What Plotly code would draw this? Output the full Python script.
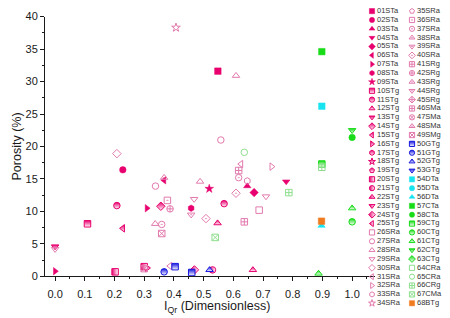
import plotly.graph_objects as go

# ---------------- data ----------------
series_names = [
    "01STa", "02STa", "03STa", "04STa", "05STa", "06STa", "07STa", "08STa", "09STa",
    "10STg", "11STg", "12STg", "13STg", "14STg", "15STg", "16STg", "17STg", "18STg",
    "19STg", "20STg", "21STg", "22STg", "23STg", "24STg", "25STg",
    "26SRa", "27SRa", "28SRa", "29SRa", "30SRa", "31SRa", "32SRa", "33SRa", "34SRa",
    "35SRa", "36SRa", "37SRa", "38SRa", "39SRa", "40SRa",
    "41SRg", "42SRg", "43SRg", "44SRg", "45SRg",
    "46SMa", "47SMa", "48SMa", "49SMg",
    "50GTg", "51GTg", "52GTg", "53GTg",
    "54DTa", "55DTa", "56DTa",
    "57CTa", "58CTa", "59CTg", "60CTg", "61CTg", "62CTg", "63CTg",
    "64CRa", "65CRa", "66CRg", "67CMa", "68BTg",
]

# one entry per plotted point
point_series = [
    "01STa", "02STa", "03STa", "04STa", "05STa", "06STa", "07STa", "07STa", "08STa", "09STa",
    "10STg", "11STg", "11STg", "12STg", "12STg", "13STg", "14STg", "15STg", "16STg", "20STg",
    "20STg", "24STg", "21STg",
    "26SRa", "27SRa", "27SRa", "28SRa", "28SRa", "28SRa", "29SRa", "29SRa", "29SRa", "30SRa",
    "31SRa", "31SRa", "32SRa", "33SRa", "34SRa", "36SRa", "37SRa", "37SRa", "38SRa", "39SRa",
    "40SRa", "40SRa", "41SRg", "41SRg", "42SRg", "49SMg", "49SMg",
    "50GTg", "50GTg", "51GTg", "52GTg",
    "54DTa", "56DTa",
    "57CTa", "58CTa", "59CTg", "60CTg", "61CTg", "61CTg", "62CTg",
    "65CRa", "66CRg", "66CRg", "67CMa", "68BTg",
]
point_x = [
    0.548, 0.228, 0.647, 0.778, 0.670, 0.367, 0.309, 0.000, 0.458, 0.519,
    0.109, 0.208, 0.569, 0.547, 0.666, 0.000, 0.356, 0.228, 0.310, 0.202,
    0.300, 0.469, 0.530,
    0.687, 0.558, 0.338, 0.609, 0.488, 0.337, 0.710, 0.468, 0.000, 0.208,
    0.626, 0.387, 0.729, 0.647, 0.407, 0.378, 0.359, 0.618, 0.367, 0.458,
    0.609, 0.508, 0.618, 0.637, 0.387, 0.359, 0.300,
    0.404, 0.460, 0.367, 0.520,
    0.898, 0.897,
    0.898, 1.000, 0.898, 1.000, 1.000, 0.887, 1.000,
    0.637, 0.787, 0.898, 0.539, 0.897,
]
point_y = [
    31.6, 16.4, 13.9, 14.6, 12.9, 14.8, 10.5, 0.8, 10.5, 13.5,
    8.1, 10.9, 11.2, 8.2, 1.0, 4.6, 10.8, 7.4, 1.3, 0.7,
    1.5, 1.0, 1.0,
    10.2, 21.0, 13.9, 30.9, 14.6, 8.1, 12.3, 11.9, 4.2, 18.9,
    17.3, 1.6, 16.9, 14.7, 38.3, 11.7, 8.0, 15.2, 15.2, 9.5,
    12.8, 8.9, 16.3, 8.4, 10.4, 6.6, 1.2,
    1.5, 0.6, 0.7, 1.0,
    26.2, 7.8,
    34.6, 21.4, 17.3, 8.4, 10.5, 0.45, 22.5,
    19.1, 12.9, 16.8, 6.0, 8.5,
]

x_ticks = [0.0, 0.1, 0.2, 0.3, 0.4, 0.5, 0.6, 0.7, 0.8, 0.9, 1.0]
y_ticks = [0, 5, 10, 15, 20, 25, 30, 35, 40]

# ---------------- styles ----------------
DEEP = "#E8006E"
LIGHT = "#E27AAE"
BLUE = "#1818E0"
CYAN = "#18E4F0"
GREEN = "#18DC18"
LGREEN = "#8EDE8E"
ORANGE = "#F07A1E"

shapes9 = ["square", "circle", "triangle-up", "triangle-down", "diamond",
           "triangle-left", "triangle-right", "hexagon", "star"]
series_style = []  # (symbol, color, fill)
series_style += [(s, DEEP, "filled") for s in shapes9]
series_style += [(s, DEEP, "half-v") for s in shapes9]
series_style += [("pentagon", DEEP, "half-v")]
series_style += [(s, DEEP, "half-h") for s in shapes9[:6]]
series_style += [(s + "-open", LIGHT, "open") for s in shapes9]
series_style += [("pentagon-open", LIGHT, "open")]
series_style += [(s + "-open-dot", LIGHT, "open") for s in shapes9[:5]]
series_style += [("square-cross-open", LIGHT, "open"), ("circle-cross-open", LIGHT, "open"),
                 ("triangle-up-open-dot", LIGHT, "open"), ("triangle-down-open-dot", LIGHT, "open"),
                 ("diamond-cross-open", LIGHT, "open")]
series_style += [("square-cross-open", LIGHT, "open"), ("circle-x-open", LIGHT, "open"),
                 ("triangle-up-open-dot", LIGHT, "open"), ("square-x-open", LIGHT, "open")]
series_style += [(s, BLUE, "half-v") for s in shapes9[:4]]
series_style += [(s, CYAN, "filled") for s in shapes9[:3]]
series_style += [(s, GREEN, "filled") for s in shapes9[:2]]
series_style += [(s, GREEN, "half-v") for s in shapes9[:5]]
series_style += [("square-open", LGREEN, "open"), ("circle-open", LGREEN, "open"),
                 ("square-cross-open", LGREEN, "open"), ("square-x-open", LGREEN, "open")]
series_style += [("square", ORANGE, "filled")]


def marker_for(style, size):
    sym, col, fill = style
    m = dict(symbol=sym, size=size, color=col, line=dict(color=col, width=1))
    if fill == "filled":
        m["line"] = dict(color=col, width=0.5)
    elif fill == "half-v":
        m["gradient"] = dict(type="vertical", color="white")
    elif fill == "half-h":
        m["gradient"] = dict(type="horizontal", color="white")
    return m


fig = go.Figure()

for name, style in zip(series_names, series_style):
    xs = [x for s, x in zip(point_series, point_x) if s == name]
    ys = [y for s, y in zip(point_series, point_y) if s == name]
    if not xs:
        continue
    fig.add_trace(go.Scatter(
        x=xs, y=ys, mode="markers", name=name, showlegend=False,
        marker=marker_for(style, 6.5), cliponaxis=False,
        xaxis="x", yaxis="y"))

# ---------------- manual two-column legend (pixel space axes) ----------------
rows = 34
for i, (name, style) in enumerate(zip(series_names, series_style)):
    col, row = divmod(i, rows)
    lx = 372 + 40 * col
    ly = 5.3 + 9.2 * row
    fig.add_trace(go.Scatter(
        x=[lx], y=[ly], mode="markers", showlegend=False,
        marker=marker_for(style, 5.2), cliponaxis=False,
        xaxis="x2", yaxis="y2", hoverinfo="skip"))

leg_x = [372 + 40 * (i // rows) + 5 for i in range(len(series_names))]
leg_y = [5.3 + 9.2 * (i % rows) for i in range(len(series_names))]
fig.add_trace(go.Scatter(
    x=leg_x, y=leg_y, mode="text", text=series_names, textposition="middle right",
    textfont=dict(family="Liberation Sans, Arial", size=7.5, color="#333333"),
    showlegend=False, cliponaxis=False, xaxis="x2", yaxis="y2", hoverinfo="skip"))

W, H = 450, 318
x_left, x_right = 45, 375
y_top, y_bot = 11, 281

axis_common = dict(showline=True, linecolor="#1a1a1a", linewidth=1, ticks="outside",
                   ticklen=4, tickwidth=1, tickcolor="#1a1a1a", showgrid=False, zeroline=False,
                   tickfont=dict(family="Liberation Sans, Arial", size=11, color="#1a1a1a"),
                   mirror=False)

fig.update_layout(
    width=W, height=H,
    margin=dict(l=0, r=0, t=0, b=0),
    paper_bgcolor="white", plot_bgcolor="rgba(0,0,0,0)",
    showlegend=False,
    xaxis=dict(domain=[x_left / W, x_right / W], range=[-0.034, 1.077], anchor="y",
               tickmode="array", tickvals=x_ticks, ticktext=[f"{v:.1f}" for v in x_ticks],
               ticklabelstandoff=3,
               minor=dict(ticks="outside", ticklen=2, dtick=0.05, tick0=0, tickcolor="#1a1a1a"),
               **axis_common),
    yaxis=dict(domain=[1 - y_bot / H, 1 - y_top / H], range=[0, 40], anchor="x",
               tickmode="array", tickvals=y_ticks, ticktext=[str(v) for v in y_ticks],
               minor=dict(ticks="outside", ticklen=2, dtick=2.5, tick0=0, tickcolor="#1a1a1a"),
               **axis_common),
    xaxis2=dict(domain=[0, 1], range=[0, W], visible=False, anchor="y2", fixedrange=True),
    yaxis2=dict(domain=[0, 1], range=[H, 0], visible=False, anchor="x2", fixedrange=True),
    annotations=[
        dict(text="Porosity (%)", x=17 / W, y=1 - 146 / H, xref="paper", yref="paper",
             textangle=-90, showarrow=False, xanchor="center", yanchor="middle",
             font=dict(family="Liberation Sans, Arial", size=12.5, color="#1a1a1a")),
        dict(text="I<sub>Qr</sub> (Dimensionless)", x=217 / W, y=1 - 302 / H,
             xref="paper", yref="paper", showarrow=False, xanchor="center", yanchor="top",
             font=dict(family="Liberation Sans, Arial", size=12.5, color="#1a1a1a")),
    ],
)

fig.write_html("out.html")
